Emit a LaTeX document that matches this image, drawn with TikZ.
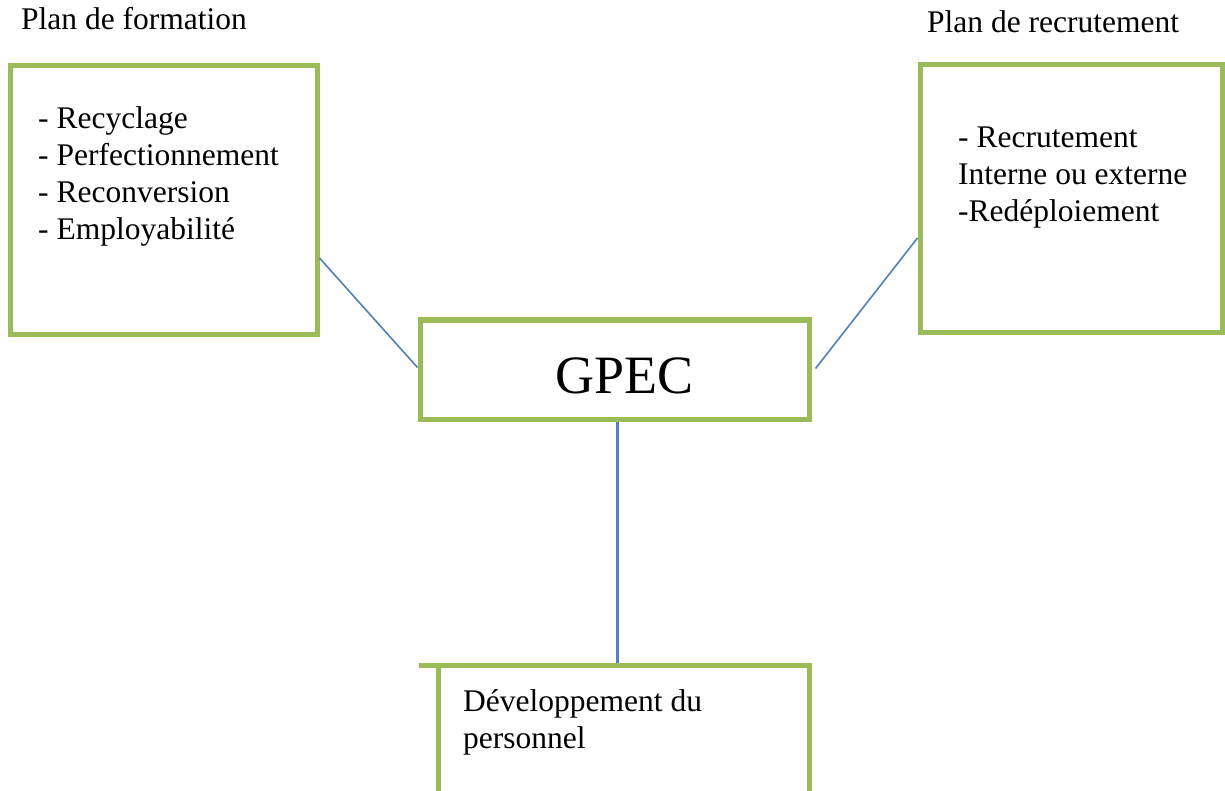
\documentclass[tikz,border=0pt]{standalone}
\usepackage{fontspec}
\setmainfont{Liberation Serif}
\definecolor{boxgreen}{HTML}{9BBB59}
\definecolor{linkblue}{HTML}{4F81BD}
\tikzset{
  frame/.style={draw=boxgreen, line width=5pt, rectangle, inner sep=0pt, fill=none},
  link/.style={draw=linkblue, line width=1.6pt},
  trunk/.style={draw=linkblue, line width=3pt},
  label/.style={inner sep=0pt, anchor=base west, font=\fontsize{31.5}{37}\selectfont, align=left},
}
\begin{document}
\begin{tikzpicture}[x=1pt, y=-1pt]
  \useasboundingbox (0,0) rectangle (1225,791);
  \clip (0,0) rectangle (1225,791);
  \fill[white] (0,0) rectangle (1225,791);

  % boxes
  \node[frame, minimum width=307pt, minimum height=268pt] (form) at (163.5,200) {};
  \node[frame, minimum width=302pt, minimum height=267pt] (recr) at (1071,198.5) {};
  \node[frame, minimum width=389pt, minimum height=99pt] (gpec) at (614.5,369.5) {};
  \node[frame, minimum width=371pt, minimum height=170pt] (dev) at (623.5,750.5) {};
  \coordinate (devtopleft) at (419,665.5);
  \draw[boxgreen, line width=5pt] (devtopleft) -- (438,665.5);

  % connectors
  \draw[link] ([yshift=-58pt]form.east) -- ([yshift=2pt]gpec.west);
  \draw[link] ([yshift=-39.5pt]recr.west) -- ([xshift=4pt,yshift=1pt]gpec.east);
  \draw[trunk] ([xshift=2.5pt]gpec.south) -- ([xshift=2.5pt]gpec.south |- dev.north);

  % titles
  \node[label] (tform) at (21,30) {Plan de formation};
  \node[label] (trecr) at (927,33) {Plan de recrutement};

  % box contents (anchored on the baseline of the last line)
  \node[label] (lform) at (38,240) {- Recyclage\\- Perfectionnement\\- Reconversion\\- Employabilité};
  \node[label] (lrecr) at (958,222) {- Recrutement\\Interne ou externe\\-Redéploiement};
  \node[inner sep=0pt, anchor=base west, font=\fontsize{54}{60}\selectfont] (lgpec) at (555,393) {GPEC};
  \node[label] (ldev) at (463,748) {Développement du\\personnel};
\end{tikzpicture}
\end{document}
